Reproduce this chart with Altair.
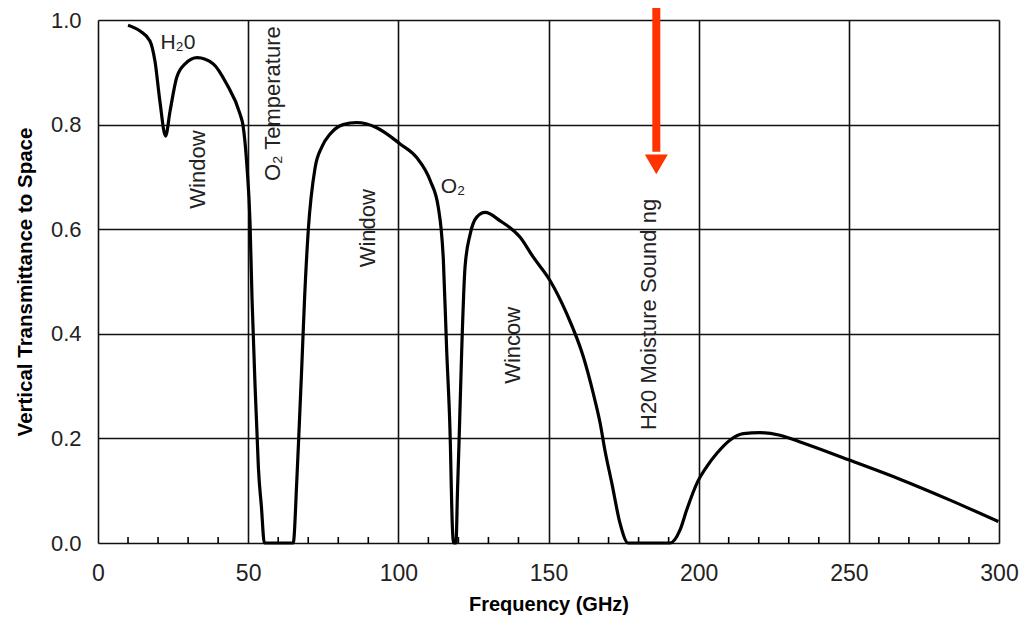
import altair as alt
import pandas as pd

# Curve: frequency (GHz) and vertical transmittance to space
FREQ = [10, 14, 17.3, 19, 20.6, 22.5, 24, 26.2, 29, 33, 38.4, 42.8, 47.3, 48.3, 49.6,
        50.6, 51.3, 52.3, 52.9, 53.4, 54.4, 55.4, 65.0, 66.2, 66.9, 67.8, 68.8, 70,
        72.3, 74.5, 77.3, 81.6, 86.1, 92.8, 100.6, 106.1, 110.6, 113.3, 115, 116.1,
        117.2, 118.0, 118.4, 119.2, 119.7, 120.2, 121.1, 122.2, 123.9, 126.1, 128.9,
        133.9, 140.5, 145, 150.5, 156.1, 161.6, 164.9, 167.2, 168.8, 171.1, 173.8,
        176.5, 190.5, 193.8, 196, 199.4, 202.7, 206, 210.5, 214.9, 220.4, 227.1,
        233.8, 250.4, 267, 283.7, 299.8]
TRANS = [0.99, 0.979, 0.96, 0.92, 0.845, 0.778, 0.826, 0.89, 0.916, 0.928, 0.916,
         0.878, 0.82, 0.798, 0.72, 0.616, 0.464, 0.30, 0.216, 0.145, 0.07, 0.0, 0.0,
         0.12, 0.21, 0.33, 0.47, 0.597, 0.718, 0.757, 0.782, 0.80, 0.804, 0.794,
         0.763, 0.737, 0.693, 0.642, 0.54, 0.368, 0.216, 0.03, 0.0, 0.0, 0.1, 0.19,
         0.368, 0.527, 0.59, 0.623, 0.632, 0.616, 0.585, 0.546, 0.502, 0.438, 0.356,
         0.286, 0.229, 0.177, 0.114, 0.038, 0.0, 0.0, 0.025, 0.063, 0.114, 0.146,
         0.171, 0.197, 0.209, 0.211, 0.206, 0.193, 0.158, 0.122, 0.082, 0.041]

X_TICKS = [0, 50, 100, 150, 200, 250, 300]
Y_TICKS = [0.0, 0.2, 0.4, 0.6, 0.8, 1.0]
MINOR_TICKS = [10, 20, 30, 40, 60, 70, 80, 90, 110, 120, 130, 140, 160, 170, 180,
               190, 210, 220, 230, 240, 260, 270, 280, 290]

# Horizontal annotations
H_LABELS = ["H\u20820", "O\u2082"]
H_X = [26.6, 118.2]
H_Y = [0.956, 0.681]

# Rotated annotations
R_LABELS = ["Window", "O\u2082 Temperature", "Window", "Wincow", "H20 Moisture Sound ng"]
R_X = [33.3, 58.4, 90.0, 138.2, 183.4]
R_Y = [0.714, 0.84, 0.602, 0.378, 0.437]

# Arrow
ARROW_X = [185.9]
ARROW_TOP = [1.05]
ARROW_SHAFT_END = [0.748]
ARROW_HEAD = [0.724]

FONT = "Liberation Sans"

curve = pd.DataFrame({"f": FREQ, "t": TRANS})
minor = pd.DataFrame({"f": MINOR_TICKS})
hlab = pd.DataFrame({"label": H_LABELS, "f": H_X, "t": H_Y})
rlab = pd.DataFrame({"label": R_LABELS, "f": R_X, "t": R_Y})
arrow = pd.DataFrame({"f": ARROW_X, "t1": ARROW_TOP, "t2": ARROW_SHAFT_END, "th": ARROW_HEAD})

xscale = alt.Scale(domain=[0, 300], nice=False)
yscale = alt.Scale(domain=[0, 1], nice=False)

xaxis = alt.Axis(values=X_TICKS, title="Frequency (GHz)", grid=True, ticks=False, tickSize=0,
                 domain=False, labelFontSize=23, labelColor="#222", labelPadding=19,
                 labelFont=FONT, titleFont=FONT, titleFontSize=20, titleFontWeight="bold",
                 titleColor="#000", titlePadding=9, gridColor="#111", gridWidth=1.6,
                 gridOpacity=1, labelFlush=False)
yaxis = alt.Axis(values=Y_TICKS, format=".1f", title="Vertical Transmittance to Space",
                 grid=True, ticks=False, tickSize=0, domain=False, labelFontSize=22,
                 labelColor="#222", labelPadding=17, labelFont=FONT, titleFont=FONT,
                 titleFontSize=20.5, titleFontWeight="bold", titleColor="#000",
                 titlePadding=15, gridColor="#111", gridWidth=1.6, gridOpacity=1,
                 labelFlush=False)

base_line = alt.Chart(curve).mark_line(color="black", strokeWidth=3.2, interpolate="monotone").encode(
    x=alt.X("f:Q", scale=xscale, axis=xaxis),
    y=alt.Y("t:Q", scale=yscale, axis=yaxis),
)

minor_ticks = alt.Chart(minor).mark_rule(color="black", strokeWidth=1.6).encode(
    x=alt.X("f:Q", scale=xscale),
    y=alt.value(523),
    y2=alt.value(517),
)

htext = alt.Chart(hlab).mark_text(font=FONT, fontSize=21, color="#222", baseline="middle", align="center").encode(
    x=alt.X("f:Q", scale=xscale), y=alt.Y("t:Q", scale=yscale), text="label:N")

rtext = alt.Chart(rlab).mark_text(font=FONT, fontSize=22, color="#222", baseline="middle",
                                  align="center", angle=270).encode(
    x=alt.X("f:Q", scale=xscale), y=alt.Y("t:Q", scale=yscale), text="label:N")

shaft = alt.Chart(arrow).mark_rule(color="#ff3300", strokeWidth=8).encode(
    x=alt.X("f:Q", scale=xscale), y=alt.Y("t1:Q", scale=yscale), y2="t2:Q")

head = alt.Chart(arrow).mark_point(shape="triangle-down", filled=True, color="#ff3300",
                                   size=529, opacity=1, strokeWidth=0).encode(
    x=alt.X("f:Q", scale=xscale), y=alt.Y("th:Q", scale=yscale))

chart = alt.layer(base_line, minor_ticks, htext, rtext, shaft, head).properties(
    width=901, height=523,
    autosize=alt.AutoSizeParams(type="none"),
    padding={"left": 90, "top": 12, "right": 20, "bottom": 80},
).configure_view(stroke="black", strokeWidth=3.5).configure(background="white")

chart.save("out.html", embed_options={"renderer": "svg", "actions": False})
